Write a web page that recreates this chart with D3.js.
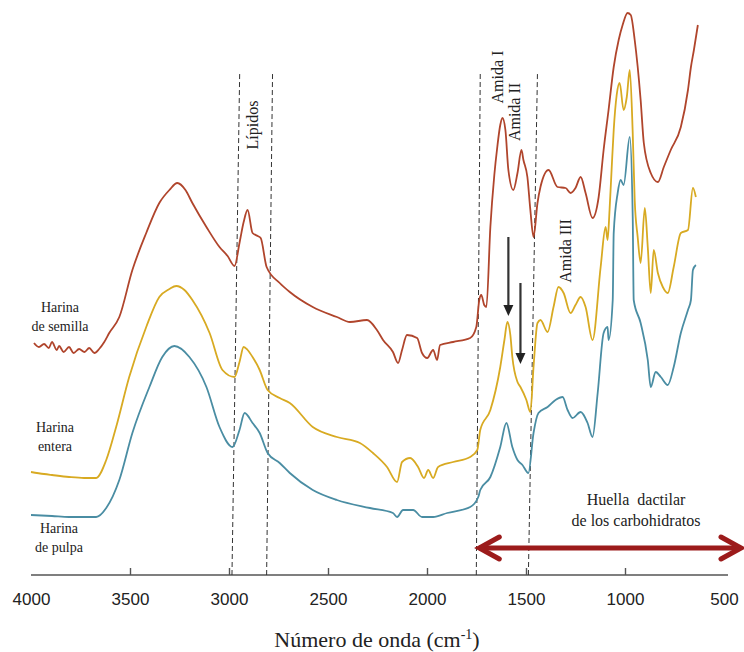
<!DOCTYPE html>
<html>
<head>
<meta charset="utf-8">
<script src="https://cdn.jsdelivr.net/npm/d3@7"></script>
<style>
  body { margin: 0; background: #fff; }
  svg { display: block; }
  .serif { font-family: "Liberation Serif", "Times New Roman", Times, serif; }
  .sans { font-family: "Liberation Sans", Arial, Helvetica, sans-serif; }
</style>
</head>
<body>
<svg id="chart"></svg>
<script>
// FTIR spectra, [wavenumber cm-1, absorbance (offset, a.u.)]
const semilla = [
  [3985, 2.32], [3960, 2.28], [3934, 2.31], [3910, 2.27], [3894, 2.33], [3870, 2.25], [3858, 2.29],
  [3835, 2.23], [3808, 2.28], [3785, 2.22], [3757, 2.26], [3730, 2.23], [3706, 2.27], [3680, 2.22],
  [3656, 2.26], [3630, 2.33], [3605, 2.42], [3554, 2.58], [3488, 3.05], [3418, 3.42], [3352, 3.72],
  [3301, 3.85], [3261, 3.92], [3220, 3.85], [3185, 3.72], [3114, 3.48], [3048, 3.28], [3007, 3.19],
  [2972, 3.09], [2947, 3.32], [2926, 3.53], [2906, 3.65], [2881, 3.42], [2855, 3.39], [2840, 3.37],
  [2810, 3.08], [2744, 2.92], [2693, 2.83], [2577, 2.68], [2455, 2.58], [2389, 2.53], [2303, 2.55],
  [2253, 2.45], [2222, 2.35], [2172, 2.23], [2146, 2.12], [2126, 2.25], [2101, 2.40], [2050, 2.37],
  [2025, 2.22], [1999, 2.17], [1969, 2.25], [1949, 2.15], [1934, 2.30], [1868, 2.33], [1782, 2.37],
  [1751, 2.48], [1736, 2.75], [1726, 2.80], [1711, 2.70], [1700, 2.68], [1680, 3.48], [1660, 4.00],
  [1645, 4.28], [1630, 4.50], [1619, 4.57], [1604, 4.45], [1589, 4.05], [1564, 3.85], [1543, 4.02],
  [1523, 4.25], [1513, 4.15], [1493, 3.98], [1478, 3.65], [1462, 3.38], [1442, 3.72], [1427, 3.88],
  [1386, 4.05], [1341, 3.88], [1300, 3.87], [1275, 3.82], [1250, 3.87], [1224, 3.98], [1199, 3.82],
  [1164, 3.57], [1133, 3.78], [1108, 4.25], [1083, 4.65], [1057, 5.08], [1032, 5.35], [1012, 5.50],
  [987, 5.62], [971, 5.60], [951, 5.35], [921, 4.75], [905, 4.32], [870, 4.02], [834, 3.93],
  [804, 4.08], [769, 4.25], [718, 4.48], [682, 4.85], [667, 5.08], [652, 5.25], [632, 5.50]
];
const entera = [
  [4000, 1.03], [3934, 1.01], [3894, 1.00], [3808, 0.98], [3732, 0.97], [3671, 0.97], [3620, 1.15],
  [3570, 1.48], [3504, 1.98], [3418, 2.48], [3352, 2.78], [3301, 2.86], [3266, 2.89], [3225, 2.85],
  [3185, 2.75], [3098, 2.42], [3033, 2.05], [2972, 1.98], [2947, 2.13], [2926, 2.28], [2906, 2.25],
  [2881, 2.18], [2845, 2.05], [2805, 1.85], [2744, 1.77], [2693, 1.72], [2577, 1.48], [2455, 1.38],
  [2339, 1.32], [2273, 1.22], [2202, 1.08], [2151, 0.93], [2126, 1.13], [2085, 1.17], [2045, 1.08],
  [2015, 0.97], [1994, 1.05], [1969, 0.97], [1944, 1.08], [1868, 1.13], [1782, 1.18], [1746, 1.25],
  [1731, 1.45], [1680, 1.65], [1630, 2.08], [1609, 2.35], [1594, 2.53], [1579, 2.40], [1569, 2.18],
  [1543, 1.93], [1528, 1.88], [1498, 1.75], [1478, 1.63], [1462, 2.08], [1442, 2.52], [1427, 2.55],
  [1391, 2.43], [1361, 2.68], [1336, 2.88], [1310, 2.82], [1275, 2.62], [1250, 2.70], [1224, 2.78],
  [1199, 2.68], [1164, 2.35], [1123, 3.08], [1098, 3.48], [1088, 3.35], [1078, 3.65], [1067, 4.08],
  [1057, 4.45], [1042, 4.80], [1027, 4.92], [1007, 4.65], [991, 4.78], [976, 5.05], [961, 4.42],
  [951, 3.75], [936, 3.38], [921, 3.12], [900, 3.67], [885, 3.28], [870, 2.82], [855, 3.25],
  [834, 3.02], [809, 2.88], [784, 2.82], [754, 3.08], [718, 3.42], [682, 3.45], [657, 3.87], [642, 3.78]
];
const pulpa = [
  [4000, 0.60], [3894, 0.59], [3808, 0.58], [3671, 0.58], [3620, 0.67], [3554, 0.95], [3488, 1.42],
  [3402, 1.88], [3337, 2.18], [3276, 2.29], [3200, 2.18], [3114, 1.88], [3048, 1.48], [2982, 1.28],
  [2947, 1.45], [2921, 1.62], [2881, 1.52], [2845, 1.42], [2805, 1.22], [2744, 1.12], [2693, 1.02],
  [2577, 0.85], [2455, 0.75], [2288, 0.67], [2172, 0.62], [2151, 0.58], [2121, 0.65], [2070, 0.65],
  [2025, 0.58], [1969, 0.58], [1898, 0.62], [1782, 0.68], [1741, 0.78], [1731, 0.85], [1680, 0.98],
  [1630, 1.28], [1599, 1.52], [1569, 1.28], [1543, 1.15], [1518, 1.10], [1488, 1.02], [1462, 1.42],
  [1437, 1.62], [1391, 1.68], [1351, 1.75], [1315, 1.78], [1290, 1.65], [1265, 1.57], [1224, 1.63],
  [1189, 1.52], [1164, 1.38], [1138, 1.82], [1108, 2.42], [1088, 2.48], [1083, 2.35], [1062, 2.75],
  [1057, 3.42], [1037, 3.82], [1022, 3.95], [1007, 3.90], [976, 4.38], [961, 3.58], [956, 2.75],
  [921, 2.52], [885, 2.15], [870, 1.88], [845, 2.03], [819, 1.98], [784, 1.90], [754, 2.08],
  [718, 2.42], [682, 2.65], [667, 2.75], [657, 3.05], [642, 3.10]
];

const seriesNames = [["Harina", "de semilla"], ["Harina", "entera"], ["Harina", "de pulpa"]];
const seriesColors = ["#b0452c", "#d8aa22", "#4a8da3"];
const tickValues = [4000, 3500, 3000, 2500, 2000, 1500, 1000, 500];

// guide lines: [wavenumber at axis, wavenumber at top] (figure is slightly slanted)
const guideLines = [[2985, 2946], [2810, 2780], [1751, 1731], [1488, 1442]];
const bandLabels = [
  { text: "Lípidos", wn: 2880, y: 4.50 },
  { text: "Amida I", wn: 1645, y: 4.98 },
  { text: "Amida II", wn: 1557, y: 4.63 },
  { text: "Amida III", wn: 1302, y: 3.24 }
];
// black arrows: [wavenumber, from, to]
const markArrows = [[1589, 3.38, 2.59], [1528, 2.92, 2.11]];
const fingerprint = { from: 1746, to: 404, y: 0.27, lines: ["Huella  dactilar", "de los carbohidratos"] };

const W = 744, H = 652;
const svg = d3.select("#chart").attr("width", W).attr("height", H);

const x = d3.scaleLinear().domain([4000, 500]).range([31, 724]);
const y = d3.scaleLinear().domain([0, 5.75]).range([575, 0]);

// axis
const axis = svg.append("g")
  .attr("transform", `translate(0,${y(0)})`)
  .call(d3.axisBottom(x).tickValues(tickValues).tickFormat(d3.format("d"))
    .tickSizeInner(-7).tickSizeOuter(0).tickPadding(18));
axis.select(".domain").attr("stroke", "#555").attr("stroke-width", 1.6)
  .attr("d", `M${x(4000)},0H${x(500) + 4}`);
axis.selectAll(".tick line").attr("stroke", "#555").attr("stroke-width", 1.4)
  .attr("display", d => (d === 4000 || d === 500) ? "none" : null);
axis.attr("font-family", null).attr("font-size", null);
axis.selectAll(".tick text").attr("class", "sans").attr("font-size", 17).attr("fill", "#222");

const title = svg.append("text")
  .attr("class", "serif")
  .attr("x", 377).attr("y", 647)
  .attr("text-anchor", "middle")
  .attr("font-size", 22).attr("fill", "#222");
title.append("tspan").text("Número de onda (cm");
title.append("tspan").attr("font-size", 14).attr("dy", -8).text("-1");
title.append("tspan").attr("dy", 8).text(")");

// dashed guides
svg.append("g").selectAll("line").data(guideLines).join("line")
  .attr("x1", d => x(d[0])).attr("y1", y(0))
  .attr("x2", d => x(d[1])).attr("y2", y(5.03))
  .attr("stroke", "#333").attr("stroke-width", 1).attr("stroke-dasharray", "5,3");

// spectra
const line = d3.line().x(d => x(d[0])).y(d => y(d[1])).curve(d3.curveMonotoneX);
[semilla, entera, pulpa].forEach((s, i) => {
  svg.append("path").datum(s)
    .attr("fill", "none")
    .attr("stroke", seriesColors[i])
    .attr("stroke-width", 1.8)
    .attr("stroke-linejoin", "round")
    .attr("d", line);
});

// series labels
const labelPos = [[60, 312], [55, 432], [59, 533]];
seriesNames.forEach((lines, i) => {
  const t = svg.append("text")
    .attr("class", "serif")
    .attr("font-size", 14).attr("fill", "#222")
    .attr("text-anchor", "middle");
  lines.forEach((l, j) => {
    t.append("tspan").attr("x", labelPos[i][0]).attr("y", labelPos[i][1] + j * 19).text(l);
  });
});

// rotated band labels
svg.append("g").selectAll("text").data(bandLabels).join("text")
  .attr("class", "serif")
  .attr("transform", d => `translate(${x(d.wn)},${y(d.y)}) rotate(-90)`)
  .attr("text-anchor", "middle")
  .attr("dy", "0.35em")
  .attr("font-size", 16).attr("fill", "#222")
  .text(d => d.text);

// black arrows
const arrowG = svg.append("g");
markArrows.forEach(a => {
  const ax = x(a[0]), y1 = y(a[1]), y2 = y(a[2]);
  arrowG.append("line")
    .attr("x1", ax).attr("y1", y1).attr("x2", ax).attr("y2", y2 - 9)
    .attr("stroke", "#333").attr("stroke-width", 2.2);
  arrowG.append("path")
    .attr("d", `M${ax - 5},${y2 - 11}L${ax + 5},${y2 - 11}L${ax},${y2}Z`)
    .attr("fill", "#222");
});

// fingerprint double arrow
const fx1 = x(fingerprint.from), fx2 = x(fingerprint.to), fy = y(fingerprint.y);
const red = "#9c1b1b";
svg.append("line")
  .attr("x1", fx1 + 2).attr("y1", fy).attr("x2", fx2 - 2).attr("y2", fy)
  .attr("stroke", red).attr("stroke-width", 5);
svg.append("path")
  .attr("d", `M${fx1 + 22},${fy - 11}L${fx1 + 2},${fy}L${fx1 + 22},${fy + 11}`)
  .attr("fill", "none").attr("stroke", red).attr("stroke-width", 5)
  .attr("stroke-linecap", "round").attr("stroke-linejoin", "miter");
svg.append("path")
  .attr("d", `M${fx2 - 22},${fy - 11}L${fx2 - 2},${fy}L${fx2 - 22},${fy + 11}`)
  .attr("fill", "none").attr("stroke", red).attr("stroke-width", 5)
  .attr("stroke-linecap", "round").attr("stroke-linejoin", "miter");

const ft = svg.append("text")
  .attr("class", "serif")
  .attr("font-size", 16).attr("fill", "#222")
  .attr("text-anchor", "middle");
fingerprint.lines.forEach((l, j) => {
  ft.append("tspan").attr("x", 636).attr("y", 505 + j * 21).attr("xml:space", "preserve").text(l);
});
</script>
</body>
</html>
